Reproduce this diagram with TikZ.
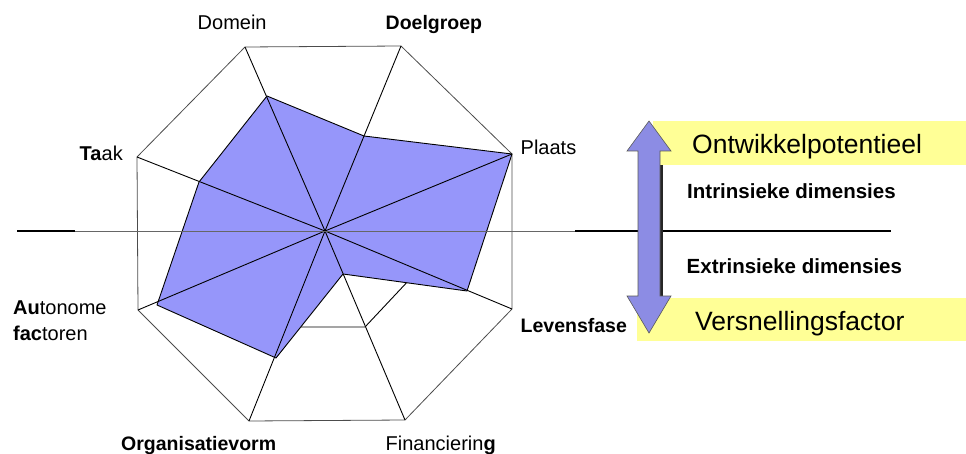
\documentclass[tikz,border=0pt]{standalone}
\usepackage{fontspec}
\setmainfont{Liberation Sans}
\definecolor{radarblue}{RGB}{150,150,250}
\definecolor{arrowblue}{RGB}{140,140,228}
\definecolor{paleyellow}{RGB}{255,255,150}
\begin{document}
\begin{tikzpicture}[x=1pt,y=-1pt,
  rim/.style={draw=black!70,line width=0.8pt,line join=round},
  spoke/.style={draw=black,line width=0.9pt},
  series/.style={draw=black,line width=0.9pt,line join=round},
  lbl/.style={inner sep=0pt,anchor=base west,font=\fontsize{20}{24}\selectfont},
  blbl/.style={inner sep=0pt,anchor=base west,font=\fontsize{19.5}{24}\selectfont\bfseries},
  bigtxt/.style={inner sep=0pt,anchor=base west,font=\fontsize{26.5}{30}\selectfont},
  dimtxt/.style={inner sep=0pt,anchor=base west,font=\fontsize{20.5}{24}\selectfont\bfseries},
  band/.style={fill=paleyellow,inner sep=0pt,anchor=north west}]
\useasboundingbox (0,0) rectangle (966,454);

% centre and outer octagon
\coordinate (c) at (325,231);
\coordinate (o1) at (245,47);
\coordinate (o2) at (401,46);
\coordinate (o3) at (512,154);
\coordinate (o4) at (512,309);
\coordinate (o5) at (405,420);
\coordinate (o6) at (249,421);
\coordinate (o7) at (138,310);
\coordinate (o8) at (137,157);

% first series (filled)
\coordinate (b1) at (267,96);
\coordinate (b2) at (364,136);
\coordinate (b4) at (467,291);
\coordinate (b5) at (343,274);
\coordinate (b6) at (276,358);
\coordinate (b7) at (157,305);
\coordinate (b8) at (199,182);

% second series (outline only)
\coordinate (w1) at (293,157);
\coordinate (w2) at (355,157);
\coordinate (w3) at (400,200);
\coordinate (w4) at (418.5,270);
\coordinate (w5) at (365,327);
\coordinate (w6) at (286.6,327);
\coordinate (w7) at (250,263);
\coordinate (w8) at (250,201);

\draw[rim] (o1) -- (o2) -- (o3) -- (o4) -- (o5) -- (o6) -- (o7) -- (o8) -- cycle;
\draw[series,fill=white] (w1) -- (w2) -- (w3) -- (w4) -- (w5) -- (w6) -- (w7) -- (w8) -- cycle;
\draw[series,fill=radarblue] (b1) -- (b2) -- (o3) -- (b4) -- (b5) -- (b6) -- (b7) -- (b8) -- cycle;
\foreach \v in {o1,o2,o3,o4,o5,o6,o7,o8}
  \draw[spoke] (c) -- (\v);

% dividing line
\coordinate (hl) at (17,231);
\coordinate (hm) at (75,231);
\coordinate (hn) at (575,231);
\coordinate (hr) at (891,231);
\draw[draw=black!60,line width=0.9pt] (hl) -- (hr);
\draw[draw=black,line width=1.3pt] (hl) -- (hm);
\draw[draw=black,line width=1.3pt] (hn) -- (hr);

% axis labels
\node[lbl] (domein) at (197.5,29.5) {Domein};
\node[blbl] (doelgroep) at (385.5,29.5) {Doelgroep};
\node[lbl] (plaats) at (520.5,154.5) {Plaats};
\node[blbl] (levensfase) at (520.5,332.5) {Levensfase};
\node[lbl] (financiering) at (385.5,450) {Financierin\textbf{g}};
\node[blbl] (organisatievorm) at (121,450) {Organisatievorm};
\node[lbl] (autonome) at (13,314.5) {\textbf{Au}tonome};
\node[lbl] (factoren) at (13,340) {\textbf{fac}toren};
\node[lbl] (taak) at (79.5,161) {\textbf{Ta}ak};

% shaft shadow, yellow bands and double arrow
\fill[black!85] (660,151) rectangle (663,296);
\node[band,minimum width=313pt,minimum height=44pt] (potband) at (653,121) {};
\node[band,minimum width=329pt,minimum height=43pt] (versband) at (637,298) {};
\draw[draw=black!65,fill=arrowblue,line width=0.6pt,line join=miter]
  (649,121) -- (671,151) -- (660,151) -- (660,296) -- (671,296) -- (649,333)
  -- (627,296) -- (638,296) -- (638,151) -- (627,151) -- cycle;

\node[bigtxt] (pot) at (692,153.3) {Ontwikkelpotentieel};
\node[bigtxt] (vers) at (695,330.7) {Versnellingsfactor};
\node[dimtxt] (intr) at (687,198.3) {Intrinsieke dimensies};
\node[dimtxt] (extr) at (686.5,273.3) {Extrinsieke dimensies};
\end{tikzpicture}
\end{document}
